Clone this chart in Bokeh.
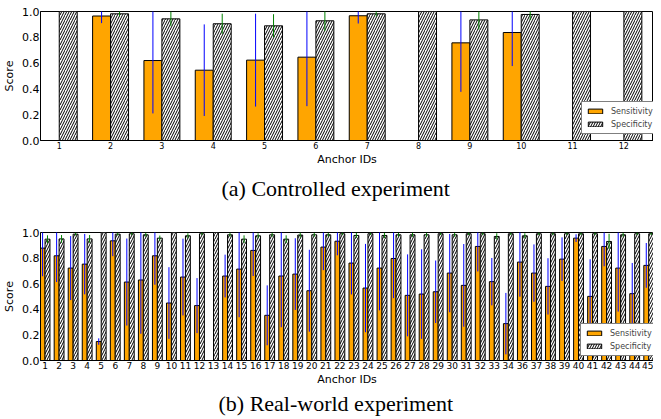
from bokeh.plotting import figure
from bokeh.models import (ColumnDataSource, FixedTicker, Range1d, Legend, LegendItem,
                          Title, PrintfTickFormatter)
from bokeh.layouts import column
from bokeh.embed import file_html
from bokeh.resources import INLINE

# ---------------- data: (a) controlled experiment ----------------
a_ids = ["1", "2", "3", "4", "5", "6", "7", "8", "9", "10", "11", "12"]
a_sens = [0.0, 0.965, 0.62, 0.545, 0.623, 0.646, 0.967, 0.0, 0.757, 0.837, 0.0, 0.0]
a_sens_err = [0.0, 0.055, 0.41, 0.355, 0.36, 0.38, 0.06, 0.0, 0.38, 0.26, 0.0, 0.0]
a_spec = [1.0, 0.982, 0.943, 0.905, 0.889, 0.928, 0.982, 1.0, 0.935, 0.977, 1.0, 1.0]
a_spec_err = [0.0, 0.02, 0.057, 0.078, 0.09, 0.08, 0.02, 0.0, 0.075, 0.045, 0.0, 0.0]

# ---------------- data: (b) real-world experiment ----------------
b_ids = ["1", "2", "3", "4", "5", "6", "7", "8", "9", "10",
         "11", "12", "13", "14", "15", "16", "17", "18", "19", "20",
         "21", "22", "23", "24", "25", "26", "27", "28", "29", "30",
         "31", "32", "33", "34", "36", "37", "38", "39", "40",
         "41", "42", "43", "44", "45"]
b_sens = [0.878, 0.818, 0.722, 0.753, 0.148, 0.935, 0.613, 0.629, 0.818, 0.449,
          0.652, 0.429, 0.0, 0.66, 0.714, 0.86, 0.353, 0.66, 0.675, 0.545,
          0.886, 0.932, 0.761, 0.566, 0.722, 0.797, 0.509, 0.519, 0.537, 0.683,
          0.587, 0.891, 0.616, 0.288, 0.769, 0.683, 0.579, 0.792, 0.956,
          0.501, 0.891, 0.722, 0.522, 0.743]
b_sens_err = [0.22, 0.205, 0.25, 0.236, 0.025, 0.12, 0.34, 0.42, 0.226, 0.28,
              0.3, 0.215, 0.0, 0.167, 0.376, 0.2, 0.234, 0.4, 0.28, 0.32,
              0.18, 0.11, 0.245, 0.345, 0.33, 0.31, 0.32, 0.35, 0.244, 0.306,
              0.323, 0.195, 0.185, 0.24, 0.27, 0.224, 0.22, 0.17, 0.03,
              0.29, 0.155, 0.34, 0.24, 0.175]
b_spec = [0.948, 0.95, 0.987, 0.95, 1.0, 0.987, 0.99, 0.982, 0.956, 1.0,
          0.974, 0.99, 1.0, 0.982, 0.948, 0.974, 0.982, 0.948, 0.98, 0.982,
          0.982, 0.99, 0.977, 0.99, 0.977, 0.982, 0.982, 0.982, 0.99, 0.982,
          0.99, 0.99, 0.969, 0.99, 0.974, 0.99, 0.99, 0.99, 0.99,
          0.99, 0.93, 0.982, 0.99, 0.99]
b_spec_err = [0.03, 0.03, 0.01, 0.03, 0.0, 0.01, 0.01, 0.015, 0.02, 0.0,
              0.02, 0.01, 0.0, 0.015, 0.03, 0.02, 0.015, 0.03, 0.02, 0.015,
              0.015, 0.01, 0.02, 0.01, 0.02, 0.015, 0.015, 0.015, 0.01, 0.015,
              0.01, 0.01, 0.025, 0.01, 0.02, 0.01, 0.01, 0.01, 0.01,
              0.01, 0.06, 0.015, 0.01, 0.01]

y_ticks = [0.0, 0.2, 0.4, 0.6, 0.8, 1.0]

ORANGE = "#FFA500"
BAR_W = 0.35


def make_panel(ids, sens, sens_err, spec, spec_err, caption, width, height,
               border_top, border_left, frame_h, x_start, x_end, tick_font,
               legend_xy, cap_offset, cap_standoff):
    n = len(ids)
    idx = list(range(n))
    src = ColumnDataSource(dict(
        xs=[i - BAR_W / 2 for i in idx],
        xp=[i + BAR_W / 2 for i in idx],
        sens=sens, spec=spec,
        s_lo=[v - e for v, e in zip(sens, sens_err)],
        s_hi=[v + e for v, e in zip(sens, sens_err)],
        p_lo=[v - e for v, e in zip(spec, spec_err)],
        p_hi=[v + e for v, e in zip(spec, spec_err)],
    ))
    p = figure(width=width, height=height, output_backend="svg", toolbar_location=None,
               x_range=Range1d(x_start, x_end), y_range=Range1d(0, 1),
               min_border_top=border_top, min_border_left=border_left,
               min_border_right=0, min_border_bottom=height - border_top - frame_h)
    p.xgrid.visible = False
    p.ygrid.visible = False
    p.outline_line_color = "black"
    p.outline_line_alpha = 1.0
    p.outline_line_width = 1

    r1 = p.vbar(x="xs", top="sens", width=BAR_W, source=src, fill_color=ORANGE,
                line_color="black", line_width=1)
    r2 = p.vbar(x="xp", top="spec", width=BAR_W, source=src, fill_color="white",
                line_color="black", line_width=1, hatch_pattern="/",
                hatch_color="black", hatch_scale=5, hatch_weight=1)
    p.segment(x0="xs", x1="xs", y0="s_lo", y1="s_hi", source=src,
              line_color="#0000FF", line_width=1)
    p.segment(x0="xp", x1="xp", y0="p_lo", y1="p_hi", source=src,
              line_color="#008000", line_width=1)

    # axes
    p.xaxis.ticker = FixedTicker(ticks=idx)
    p.xaxis.major_label_overrides = {i: s for i, s in zip(idx, ids)}
    p.yaxis.ticker = FixedTicker(ticks=y_ticks)
    p.yaxis.formatter = PrintfTickFormatter(format="%.1f")
    for ax in (p.xaxis[0], p.yaxis[0]):
        ax.major_tick_out = 0
        ax.major_tick_in = 0
        ax.minor_tick_out = 0
        ax.minor_tick_in = 0
        ax.axis_line_color = "black"
        ax.axis_label_text_font = "DejaVu Sans"
        ax.axis_label_text_font_style = "normal"
        ax.axis_label_text_font_size = "11px"
        ax.axis_label_text_color = "black"
        ax.major_label_text_font = "DejaVu Sans"
        ax.major_label_text_color = "black"
    p.xaxis.axis_label = "Anchor IDs"
    p.yaxis.axis_label = "Score"
    p.xaxis.major_label_text_font_size = tick_font
    p.yaxis.major_label_text_font_size = "11px"
    p.xaxis.major_label_standoff = 1
    p.yaxis.major_label_standoff = 1
    p.xaxis.axis_label_standoff = 1
    p.yaxis.axis_label_standoff = 3

    legend = Legend(items=[LegendItem(label="Sensitivity", renderers=[r1]),
                           LegendItem(label="Specificity", renderers=[r2])],
                    location=legend_xy, label_text_font="DejaVu Sans",
                    label_text_font_size="8px", glyph_width=18, glyph_height=6,
                    label_height=10, label_standoff=7, spacing=3, padding=4,
                    margin=0, border_line_color="black", border_line_width=1,
                    background_fill_color="white", background_fill_alpha=1.0)
    p.add_layout(legend)

    p.add_layout(Title(text=caption, align="left", offset=cap_offset,
                       standoff=cap_standoff,
                       text_font="Liberation Serif", text_font_size="22px",
                       text_font_style="normal", text_color="black"), "below")
    return p


pa = make_panel(a_ids, a_sens, a_sens_err, a_spec, a_spec_err,
                "(a) Controlled experiment", 653, 219, 11, 32, 129,
                -0.365, 11.577, "8px", (541, 6), 181, 10)
pb = make_panel(b_ids, b_sens, b_sens_err, b_spec, b_spec_err,
                "(b) Real-world experiment", 653, 198, 13, 33, 128,
                -0.324, 43.34, "9px", (540, 4), 178, 0)

layout = column(pa, pb, spacing=0)
open("out.html", "w").write(file_html(layout, INLINE))
